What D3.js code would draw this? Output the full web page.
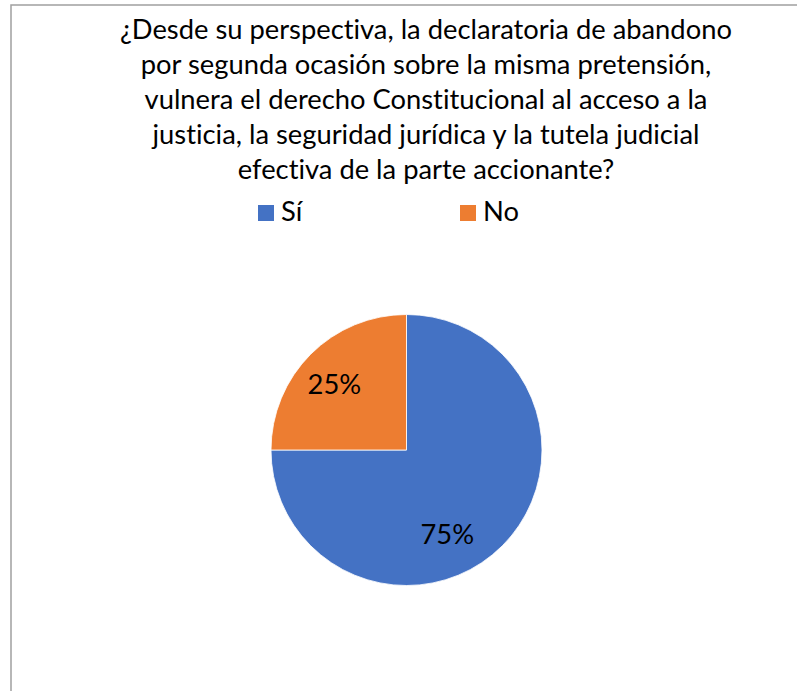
<!DOCTYPE html>
<html>
<head>
<meta charset="utf-8">
<script src="https://cdn.jsdelivr.net/npm/d3@7"></script>
<style>
  html, body { margin: 0; padding: 0; background: #fff; }
  svg { display: block; }
  text { font-variant-ligatures: none; font-feature-settings: "liga" 0, "clig" 0; }
</style>
</head>
<body>
<svg id="chart" width="797" height="691"></svg>
<script>
const titleLines = [
  "¿Desde su perspectiva, la declaratoria de abandono",
  "por segunda ocasión sobre la misma pretensión,",
  "vulnera el derecho Constitucional al acceso a la",
  "justicia, la seguridad jurídica y la tutela judicial",
  "efectiva de la parte accionante?"
];
const categories = ["Sí", "No"];
const values = [75, 25];
const colors = ["#4472C4", "#ED7D31"];
// where each label sits inside its slice (fraction of slice sweep, fraction of radius)
const labelSweep = [0.571, 0.47];
const labelRadius = [0.69, 0.72];

const FONT = "Lato, 'Open Sans', sans-serif";
const svg = d3.select("#chart");

// chart border
svg.append("rect")
  .attr("x", 11).attr("y", 5)
  .attr("width", 800).attr("height", 700)
  .attr("fill", "#fff")
  .attr("stroke", "#a0a0a0").attr("stroke-width", 1.5);

// title
const cx = 426;
const titleG = svg.append("g");
const t = titleG.selectAll("text").data(titleLines).join("text")
  .attr("x", cx)
  .attr("y", (d, i) => 39 + i * 35)
  .attr("text-anchor", "middle")
  .attr("font-family", FONT)
  .attr("font-size", 24)
  .attr("fill", "#000")
  .text(d => d);
const w0 = t.nodes()[0].getComputedTextLength();
const titleSize = 24 * 612 / w0;
t.attr("font-size", titleSize);

// legend
const legendX = [258, 460];
const lg = svg.append("g").selectAll("g").data(categories).join("g")
  .attr("transform", (d, i) => `translate(${legendX[i]},205)`);
lg.append("rect").attr("width", 16).attr("height", 16)
  .attr("fill", (d, i) => colors[i]);
lg.append("text")
  .attr("x", 23).attr("y", 16)
  .attr("font-family", FONT)
  .attr("font-size", titleSize)
  .attr("fill", "#000")
  .text(d => d);

// pie
const r = 135.5;
const pcx = 406.5, pcy = 450;
const data = categories.map((c, i) => ({ cat: c, value: values[i], i }));
const pie = d3.pie().value(d => d.value).sort(null);
const arcs = pie(data);
const arc = d3.arc().innerRadius(0).outerRadius(r);
const g = svg.append("g").attr("transform", `translate(${pcx},${pcy})`);
g.selectAll("path").data(arcs).join("path")
  .attr("d", arc)
  .attr("fill", d => colors[d.data.i])
  .attr("stroke", "#fff").attr("stroke-width", 0.8);

g.selectAll("text.lbl").data(arcs).join("text")
  .attr("class", "lbl")
  .attr("transform", d => {
    const a = d.startAngle + (d.endAngle - d.startAngle) * labelSweep[d.data.i];
    const rr = r * labelRadius[d.data.i];
    return `translate(${rr * Math.sin(a)},${-rr * Math.cos(a)})`;
  })
  .attr("text-anchor", "middle")
  .attr("dy", "0.35em")
  .attr("font-family", FONT)
  .attr("font-size", titleSize)
  .attr("fill", "#000")
  .text(d => d.data.value + "%");
</script>
</body>
</html>
